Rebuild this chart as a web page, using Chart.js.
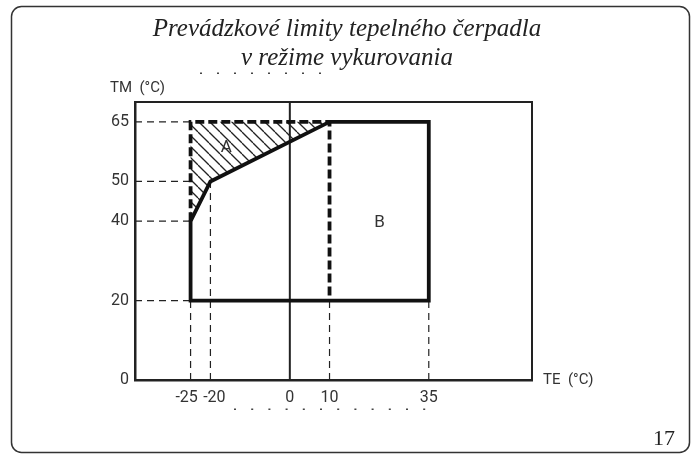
<!DOCTYPE html>
<html>
<head>
<meta charset="utf-8">
<script src="https://cdn.jsdelivr.net/npm/chart.js@4/dist/chart.umd.min.js"></script>
<style>
  body { margin: 0; background: #fff; }
</style>
</head>
<body>
<canvas id="chart" width="691" height="455"></canvas>
<script>
// axis ranges and tick labels
const xMin = -39, xMax = 61;
const yMin = 0, yMax = 70;
const xTicks = [-25, -20, 0, 10, 35];
const yTicks = [0, 20, 40, 50, 65];
// -25 and -20 sit close together, nudge them apart like the print does
const xTickText = { '-25': '-25  ', '-20': '  -20' };

// operating limit outline (solid) and the dashed extension
const solidX = [10, 35, 35, -25, -25, -20, 10];
const solidY = [65, 65, 20, 20, 40, 50, 65];
const dashedX = [-25, -25, 10, 10];
const dashedY = [40, 65, 65, 20];

// hatched zone A
const zoneAX = [-25, -25, 10, -20, -25];
const zoneAY = [40, 65, 65, 50, 40];

// thin dashed helper lines
const guideLevels = [65, 50, 40, 20];
const guideXs = [-25, -20, 10, 35];
const guideTops = [20, 50, 20, 20];
const zeroLineY = [0, 70];

const zoneLabels = [
  { text: 'A', x: -16, y: 58.5 },
  { text: 'B', x: 22.6, y: 39.5 }
];

const titleLines = ['Prevádzkové limity tepelného čerpadla', 'v režime vykurovania'];
const yName = 'TM  (°C)';
const xName = 'TE  (°C)';
const pageNo = '17';

const canvas = document.getElementById('chart');
const ctx = canvas.getContext('2d');

const pts = (xs, ys) => xs.map((x, i) => ({ x: x, y: ys[i] }));

// diagonal hatch for zone A
const hatch = (() => {
  const s = 11;
  const c = document.createElement('canvas');
  c.width = s; c.height = s;
  const g = c.getContext('2d');
  g.strokeStyle = '#222';
  g.lineWidth = 1.3;
  [-s, 0, s].forEach(k => {
    g.beginPath();
    g.moveTo(k, 0);
    g.lineTo(k + s, s);
    g.stroke();
  });
  return ctx.createPattern(c, 'repeat');
})();

const thin = { borderColor: '#222', borderWidth: 1.2, borderDash: [7, 5], pointRadius: 0, fill: false, order: 5 };

const guideSets = [
  ...guideLevels.map(v => ({ ...thin, data: [{ x: xMin, y: v }, { x: -25, y: v }] })),
  ...guideXs.map((v, i) => ({ ...thin, data: [{ x: v, y: 0 }, { x: v, y: guideTops[i] }] }))
];

const decor = {
  id: 'decor',
  afterDraw(chart) {
    const { ctx, scales: { x, y } } = chart;
    ctx.save();
    // page frame
    ctx.strokeStyle = '#333';
    ctx.lineWidth = 1.5;
    ctx.beginPath();
    ctx.roundRect(11.5, 6.5, 678, 446, 10);
    ctx.stroke();

    // title
    ctx.fillStyle = '#222';
    ctx.font = 'italic 25px "Liberation Serif"';
    ctx.textAlign = 'center';
    ctx.textBaseline = 'alphabetic';
    titleLines.forEach((t, i) => ctx.fillText(t, 347, 36 + i * 29));

    // axis names
    ctx.fillStyle = '#333';
    ctx.font = '15px Roboto';
    ctx.textAlign = 'left';
    ctx.textBaseline = 'middle';
    ctx.fillText(yName, 110, 88);
    ctx.fillText(xName, 543, 380);

    // zone letters
    ctx.font = '17px Roboto';
    ctx.textAlign = 'center';
    zoneLabels.forEach(l => ctx.fillText(l.text, x.getPixelForValue(l.x), y.getPixelForValue(l.y)));

    // page number
    ctx.fillStyle = '#222';
    ctx.font = '22px "Liberation Serif"';
    ctx.textAlign = 'right';
    ctx.textBaseline = 'alphabetic';
    ctx.fillText(pageNo, 675, 445);

    // scan dots
    ctx.fillStyle = '#444';
    for (let i = 0; i < 8; i++) ctx.fillRect(200 + i * 17, 72.5, 2, 1.5);
    for (let i = 0; i < 12; i++) ctx.fillRect(234 + i * 17.2, 408.5, 2, 1.5);
    ctx.restore();
  }
};

const tickFont = { family: 'Roboto', size: 16 };

new Chart(canvas, {
  type: 'scatter',
  data: {
    datasets: [
      {
        data: pts(zoneAX, zoneAY),
        showLine: true,
        fill: 'shape',
        backgroundColor: hatch,
        borderWidth: 0,
        pointRadius: 0,
        order: 10
      },
      ...guideSets.map(d => ({ ...d, showLine: true })),
      {
        data: pts([0, 0], zeroLineY),
        showLine: true,
        borderColor: '#222',
        borderWidth: 2,
        pointRadius: 0,
        order: 4
      },
      {
        data: pts(dashedX, dashedY),
        showLine: true,
        borderColor: '#111',
        borderWidth: 3.8,
        borderDash: [9, 4],
        pointRadius: 0,
        order: 2
      },
      {
        data: pts(solidX, solidY),
        showLine: true,
        borderColor: '#111',
        borderWidth: 3.8,
        borderJoinStyle: 'miter',
        pointRadius: 0,
        order: 1
      }
    ]
  },
  options: {
    responsive: false,
    animation: false,
    layout: { padding: { top: 102, left: 95, right: 159, bottom: 45 } },
    plugins: {
      legend: { display: false },
      tooltip: { enabled: false },
      title: { display: false }
    },
    scales: {
      x: {
        type: 'linear',
        min: xMin, max: xMax,
        afterBuildTicks: s => { s.ticks = xTicks.map(v => ({ value: v })); },
        afterFit: s => { s.height = 30; },
        grid: { display: false, drawTicks: false },
        border: { display: true, color: '#222', width: 2.5 },
        ticks: {
          font: tickFont, color: '#333', padding: 8, autoSkip: false, maxRotation: 0,
          callback: v => xTickText[v] || String(v)
        }
      },
      y: {
        type: 'linear',
        min: yMin, max: yMax,
        afterBuildTicks: s => { s.ticks = yTicks.map(v => ({ value: v })); },
        afterFit: s => { s.width = 40; },
        grid: { display: false, drawTicks: false },
        border: { display: true, color: '#222', width: 2.5 },
        ticks: { font: tickFont, color: '#333', padding: 6, autoSkip: false }
      },
      xTop: {
        type: 'linear', position: 'top',
        afterFit: s => { s.height = 0; },
        grid: { display: false, drawTicks: false },
        border: { display: true, color: '#222', width: 2 },
        ticks: { display: false }
      },
      yRight: {
        type: 'linear', position: 'right',
        afterFit: s => { s.width = 0; },
        grid: { display: false, drawTicks: false },
        border: { display: true, color: '#222', width: 2 },
        ticks: { display: false }
      }
    }
  },
  plugins: [decor]
});
</script>
</body>
</html>
